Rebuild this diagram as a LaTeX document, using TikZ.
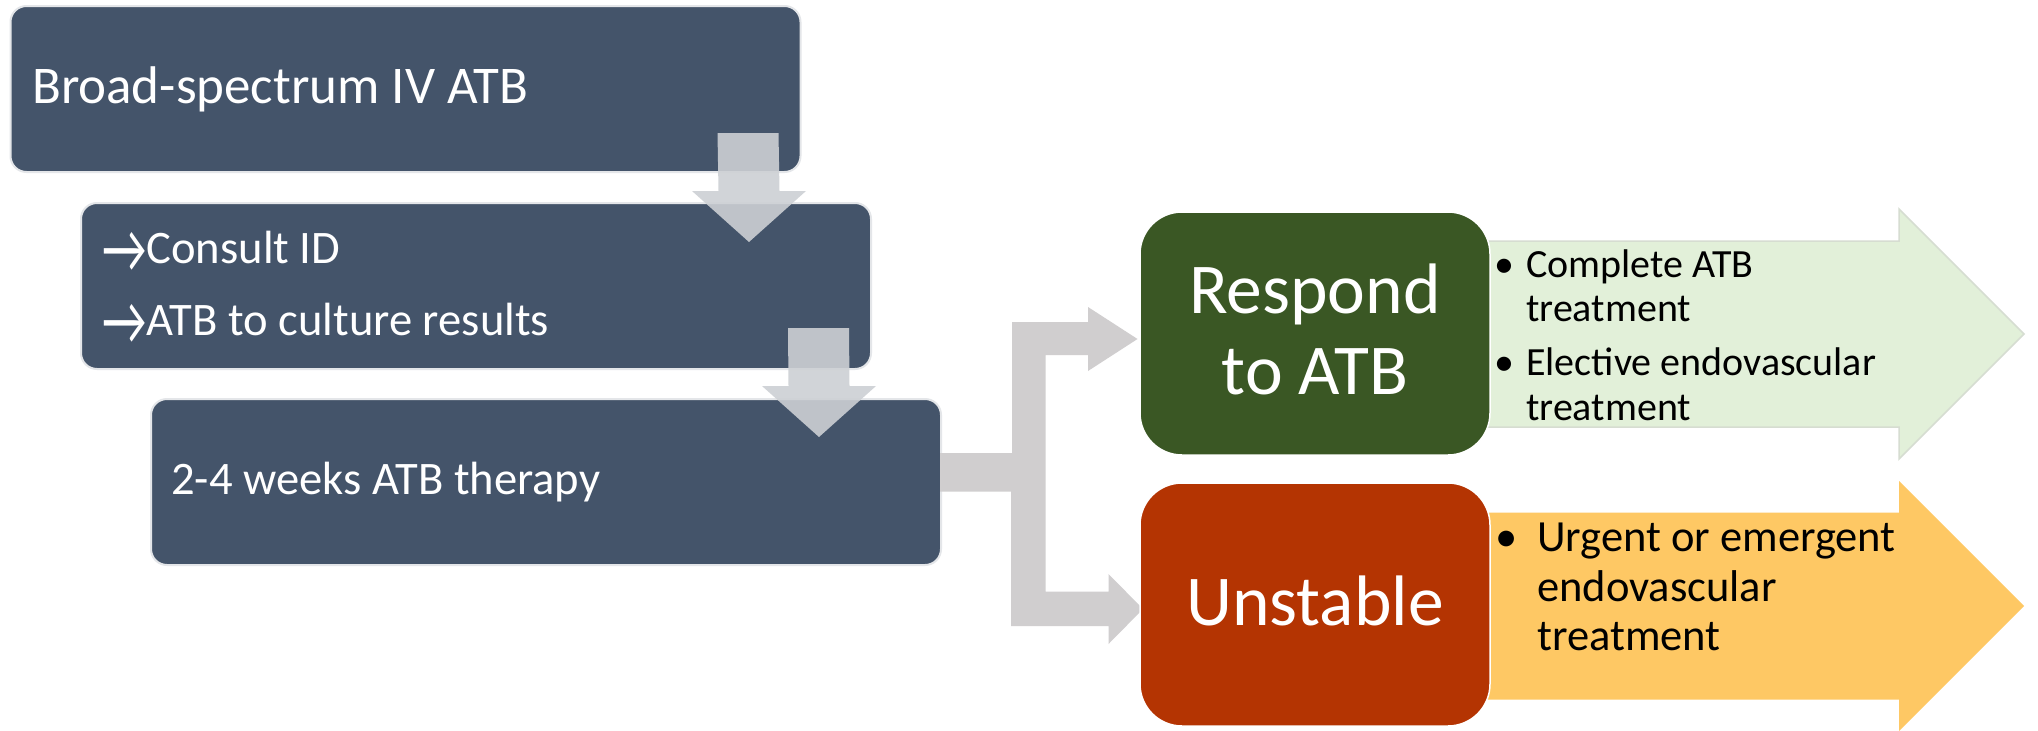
\documentclass[tikz,border=0pt]{standalone}
\usepackage{fontspec}
\setmainfont{Carlito}
\usetikzlibrary{calc}
\definecolor{boxblue}{HTML}{44546A}
\definecolor{boxedge}{HTML}{E4E6E9}
\definecolor{dgreen}{HTML}{3A5724}
\definecolor{dred}{HTML}{B43402}
\definecolor{lgreen}{HTML}{E2F0D9}
\definecolor{lgreenedge}{HTML}{D6DDD1}
\definecolor{lorange}{HTML}{FEC864}
\definecolor{cgray}{HTML}{D0CECF}
\definecolor{agray}{HTML}{CDD0D4}
\tikzset{
  flowbox/.style={rectangle, rounded corners=16pt, fill=boxblue, draw=boxedge, line width=2pt,
    minimum width=790pt, minimum height=166pt, inner sep=0pt},
  statebox/.style={rectangle, rounded corners=42pt, draw=white, line width=1.5pt,
    minimum width=350pt, minimum height=243pt, inner sep=0pt},
  boxtext/.style={anchor=base west, text=white, inner sep=0pt},
  bigtext/.style={anchor=base, text=white, inner sep=0pt, font=\fontsize{71.5}{81}\selectfont},
  gtext/.style={anchor=base west, text=black, inner sep=0pt, font=\fontsize{40}{44}\selectfont},
  otext/.style={anchor=base west, text=black, inner sep=0pt, font=\fontsize{44.5}{49}\selectfont},
  gbullet/.style={anchor=base, text=black, inner sep=0pt, font=\fontsize{40}{44}\selectfont},
  obullet/.style={anchor=base, text=black, inner sep=0pt, font=\fontsize{44.5}{49}\selectfont},
  downarr/.style={fill=agray, fill opacity=0.9},
  branch/.style={fill=cgray},
}
\newcommand\blockdown[2]{%
  \fill[downarr] ($(#1)+(-30.5,0)$) -- ($(#1)+(30.5,0)$) -- ($(#2)+(30.5,-51)$) -- ($(#2)+(57,-51)$)
    -- (#2) -- ($(#2)+(-57,-51)$) -- ($(#2)+(-30.5,-51)$) -- cycle;}
\newcommand\txtarrow{\raisebox{-9pt}{\scalebox{1.05}[1.5]{→}}}
\begin{document}
\begin{tikzpicture}[x=1pt,y=-1pt]
\useasboundingbox (0,0) rectangle (2038,731);
\fill[white] (0,0) rectangle (2038,731);

% big outcome arrows
\fill[lgreen, draw=lgreenedge, line width=1.5pt] (1470,241) -- (1899,241) -- (1899,209) -- (2024,334)
  -- (1899,459) -- (1899,427) -- (1470,427) -- cycle;
\fill[lorange] (1470,512.5) -- (1899,512.5) -- (1899,481) -- (2024,606)
  -- (1899,731) -- (1899,699.5) -- (1470,699.5) -- cycle;

% left boxes
\node[flowbox] (b1) at (405.5,89) {};
\node[flowbox] (b2) at (476,286) {};
\node[flowbox] (b3) at (546,482) {};

% branching connector
\fill[branch] ($(b3.east)+(-2,-29)$) -- (1012,453) -- (1012,322) -- (1088,322) -- (1088,307) -- (1137.5,339)
  -- (1088,371) -- (1088,355) -- (1045.5,355) -- (1045.5,591.5) -- (1108.5,591.5) -- (1108.5,574)
  -- (1143,609) -- (1108.5,644) -- (1108.5,626) -- (1011,626) -- (1011,491.5) -- ($(b3.east)+(-2,9.5)$) -- cycle;

% outcome boxes
\node[statebox, fill=dgreen] (rsp) at (1315,333.5) {};
\node[statebox, fill=dred] (uns) at (1315,604.5) {};

% down arrows between the steps
\coordinate (d1s) at ($(b1.south east)+(-53.5,-40)$);
\coordinate (d1t) at ($(b2.north east)+(-123,40)$);
\coordinate (d2s) at ($(b2.south east)+(-53.5,-42)$);
\coordinate (d2t) at ($(b3.north east)+(-123,39)$);
\blockdown{d1s}{d1t}
\blockdown{d2s}{d2t}

% texts in left boxes
\node[boxtext, font=\fontsize{53}{60}\selectfont] (t1) at (32,103.5) {Broad-spectrum IV ATB};
\node[boxtext, font=\fontsize{46.6}{56}\selectfont] (t2a) at (102,263.5) {\txtarrow Consult ID};
\node[boxtext, font=\fontsize{46.6}{56}\selectfont] (t2b) at (102,335) {\txtarrow ATB to culture results};
\node[boxtext, font=\fontsize{46.6}{56}\selectfont] (t3) at (171,494) {2-4 weeks ATB therapy};

% outcome texts
\node[bigtext] (r1) at (1315,313) {Respond};
\node[bigtext] (r2) at (1315,394) {to ATB};
\node[bigtext] (u1) at (1315,625.5) {Unstable};

% bullet texts
\node[gbullet] (gb1) at (1504,277) {•};
\node[gtext] (g1) at (1526,277) {Complete ATB};
\node[gtext] (g2) at (1526,321) {treatment};
\node[gbullet] (gb2) at (1504,375) {•};
\node[gtext] (g3) at (1526,375) {Elective endovascular};
\node[gtext] (g4) at (1526,420) {treatment};

\node[obullet] (ob1) at (1507,551.5) {•};
\node[otext] (o1) at (1537,551.5) {Urgent or emergent};
\node[otext] (o2) at (1537,601) {endovascular};
\node[otext] (o3) at (1537,650) {treatment};
\end{tikzpicture}
\end{document}
